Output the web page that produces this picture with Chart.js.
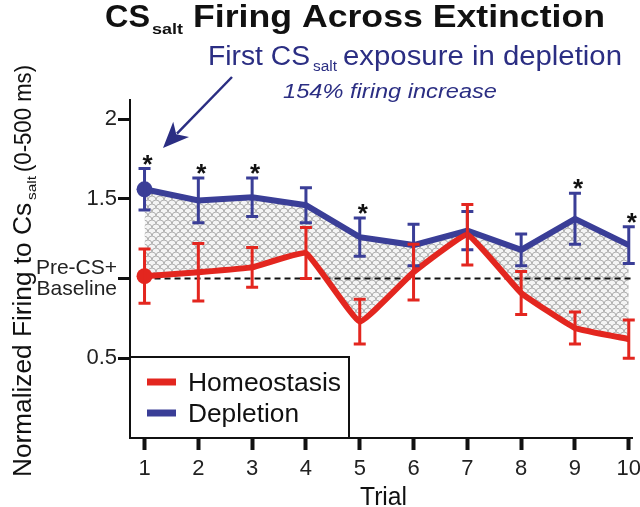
<!DOCTYPE html>
<html>
<head>
<meta charset="utf-8">
<script src="https://cdn.jsdelivr.net/npm/chart.js@4.4.1/dist/chart.umd.min.js"></script>
<style>
  html, body { margin: 0; padding: 0; background: #fff; }
  #wrap { width: 640px; height: 507px; }
</style>
</head>
<body>
<div id="wrap"><canvas id="myChart" width="640" height="507"></canvas></div>
<script>
// data
var trials = [1, 2, 3, 4, 5, 6, 7, 8, 9, 10];
var homeostasis = [1.015, 1.04, 1.07, 1.16, 0.73, 1.04, 1.275, 0.91, 0.69, 0.62];
var homeostasisErr = [0.17, 0.18, 0.125, 0.16, 0.14, 0.175, 0.19, 0.135, 0.10, 0.12];
var depletion = [1.56, 1.49, 1.51, 1.46, 1.26, 1.21, 1.30, 1.18, 1.375, 1.21];
var depletionErr = [0.13, 0.14, 0.12, 0.11, 0.12, 0.13, 0.12, 0.10, 0.16, 0.115];
var yTicks = [0.5, 1, 1.5, 2];
var sigTrials = [1, 2, 3, 5, 9, 10];

var FONT = '"Liberation Sans", Arial, Helvetica, sans-serif';
var red = '#e3261f';
var blue = '#3a3e97';
var navy = '#2b2e83';

function makePattern() {
  var c = document.createElement('canvas');
  c.width = 8; c.height = 8;
  var g = c.getContext('2d');
  g.fillStyle = '#f4f4f4';
  g.fillRect(0, 0, 8, 8);
  g.strokeStyle = '#929292';
  g.lineWidth = 0.7;
  g.beginPath(); g.arc(4, 4, 4, Math.PI, 2 * Math.PI); g.stroke();
  g.beginPath(); g.arc(0, 8, 4, Math.PI, 2 * Math.PI); g.stroke();
  g.beginPath(); g.arc(8, 8, 4, Math.PI, 2 * Math.PI); g.stroke();
  return document.getElementById('myChart').getContext('2d').createPattern(c, 'repeat');
}

function toPoints(vals) {
  return vals.map(function(v, i) { return { x: trials[i], y: v }; });
}

// draw text stretched to the span x0..x1
function fitText(ctx, text, x0, x1, y, font, color) {
  ctx.save();
  ctx.font = font;
  var w = ctx.measureText(text).width;
  ctx.translate(x0, y);
  ctx.scale((x1 - x0) / w, 1);
  ctx.fillStyle = color;
  ctx.textAlign = 'left';
  ctx.textBaseline = 'alphabetic';
  ctx.fillText(text, 0, 0);
  ctx.restore();
}

var decorations = {
  id: 'decorations',
  beforeDatasetsDraw: function(chart) {
    var ctx = chart.ctx, x = chart.scales.x, y = chart.scales.y;
    ctx.save();
    ctx.strokeStyle = '#111';
    ctx.lineWidth = 2;
    ctx.setLineDash([6, 4]);
    ctx.beginPath();
    ctx.moveTo(x.getPixelForValue(1), y.getPixelForValue(1));
    ctx.lineTo(x.getPixelForValue(10) + 4, y.getPixelForValue(1));
    ctx.stroke();
    ctx.restore();
  },
  afterDatasetsDraw: function(chart) {
    var ctx = chart.ctx, x = chart.scales.x, y = chart.scales.y;
    function bars(vals, errs, color) {
      ctx.save();
      ctx.strokeStyle = color;
      ctx.lineWidth = 3;
      for (var i = 0; i < vals.length; i++) {
        var px = x.getPixelForValue(trials[i]);
        var t = y.getPixelForValue(vals[i] + errs[i]);
        var b = y.getPixelForValue(vals[i] - errs[i]);
        ctx.beginPath();
        ctx.moveTo(px, t); ctx.lineTo(px, b);
        ctx.moveTo(px - 6, t); ctx.lineTo(px + 6, t);
        ctx.moveTo(px - 6, b); ctx.lineTo(px + 6, b);
        ctx.stroke();
      }
      ctx.restore();
    }
    bars(depletion, depletionErr, blue);
    bars(homeostasis, homeostasisErr, red);

    // significance stars
    ctx.save();
    ctx.fillStyle = '#111';
    ctx.font = 'bold 26px ' + FONT;
    ctx.textAlign = 'center';
    sigTrials.forEach(function(t) {
      var i = trials.indexOf(t);
      var top = Math.min(y.getPixelForValue(depletion[i] + depletionErr[i]),
                         y.getPixelForValue(homeostasis[i] + homeostasisErr[i]));
      ctx.fillText('*', x.getPixelForValue(t) + 3, top + 4);
    });
    ctx.restore();
  },
  afterDraw: function(chart) {
    var ctx = chart.ctx, area = chart.chartArea;

    // legend box
    ctx.save();
    ctx.fillStyle = '#fff';
    ctx.fillRect(area.left, 357, 219, area.bottom - 357);
    ctx.strokeStyle = '#111';
    ctx.lineWidth = 2;
    ctx.strokeRect(area.left, 357, 219, area.bottom - 357);
    ctx.lineWidth = 7;
    ctx.strokeStyle = red;
    ctx.beginPath(); ctx.moveTo(147, 382); ctx.lineTo(176, 382); ctx.stroke();
    ctx.strokeStyle = blue;
    ctx.beginPath(); ctx.moveTo(147, 413); ctx.lineTo(176, 413); ctx.stroke();
    ctx.restore();
    fitText(ctx, 'Homeostasis', 188, 341, 391, '26px ' + FONT, '#111');
    fitText(ctx, 'Depletion', 188, 299, 422, '26px ' + FONT, '#111');

    // title
    fitText(ctx, 'CS', 105, 150, 27, 'bold 32px ' + FONT, '#111');
    fitText(ctx, 'salt', 152, 183, 34, 'bold 15px ' + FONT, '#111');
    fitText(ctx, 'Firing Across Extinction', 193, 605, 27, 'bold 32px ' + FONT, '#111');

    // annotation
    fitText(ctx, 'First CS', 208, 310, 65, '27px ' + FONT, navy);
    fitText(ctx, 'salt', 313, 337, 71, '14px ' + FONT, navy);
    fitText(ctx, 'exposure in depletion', 343, 622, 65, '27px ' + FONT, navy);
    fitText(ctx, '154% firing increase', 283, 497, 98, 'italic 20px ' + FONT, navy);

    // arrow
    ctx.save();
    ctx.strokeStyle = navy;
    ctx.fillStyle = navy;
    ctx.lineWidth = 2.5;
    var x1 = 232, y1 = 77, x2 = 163, y2 = 148;
    var ang = Math.atan2(y2 - y1, x2 - x1);
    var hl = 26, hw = 11;
    var bx = x2 - hl * Math.cos(ang), by = y2 - hl * Math.sin(ang);
    ctx.beginPath(); ctx.moveTo(x1, y1); ctx.lineTo(bx + 6 * Math.cos(ang), by + 6 * Math.sin(ang)); ctx.stroke();
    ctx.beginPath();
    ctx.moveTo(x2, y2);
    ctx.lineTo(bx + hw * Math.sin(ang), by - hw * Math.cos(ang));
    ctx.lineTo(bx + 7 * Math.cos(ang), by + 7 * Math.sin(ang));
    ctx.lineTo(bx - hw * Math.sin(ang), by + hw * Math.cos(ang));
    ctx.closePath();
    ctx.fill();
    ctx.restore();

    // y axis title (rotated)
    ctx.save();
    ctx.translate(31, 0);
    ctx.rotate(-Math.PI / 2);
    fitText(ctx, 'Normalized Firing to Cs', -477, -203, 0, '26px ' + FONT, '#111');
    fitText(ctx, 'salt', -200, -176, 5, '13px ' + FONT, '#111');
    fitText(ctx, '(0-500 ms)', -172, -65, 0, '24px ' + FONT, '#111');
    ctx.restore();

    // x axis title
    fitText(ctx, 'Trial', 360, 407, 505, '25px ' + FONT, '#111');
  }
};

var myChart = new Chart(document.getElementById('myChart').getContext('2d'), {
  type: 'line',
  data: {
    datasets: [{
      label: 'Homeostasis',
      data: toPoints(homeostasis),
      borderColor: red,
      backgroundColor: red,
      borderWidth: 6,
      tension: 0.1,
      pointRadius: function(c) { return c.dataIndex === 0 ? 8 : 0; },
      pointBackgroundColor: red,
      pointBorderWidth: 0,
      fill: false,
      clip: false
    }, {
      label: 'Depletion',
      data: toPoints(depletion),
      borderColor: blue,
      backgroundColor: makePattern(),
      borderWidth: 6,
      tension: 0,
      pointRadius: function(c) { return c.dataIndex === 0 ? 8 : 0; },
      pointBackgroundColor: blue,
      pointBorderWidth: 0,
      fill: '-1',
      clip: false
    }]
  },
  options: {
    responsive: false,
    animation: false,
    layout: { padding: { top: 100, right: 8, left: 0, bottom: 0 } },
    plugins: {
      legend: { display: false },
      tooltip: { enabled: false },
      filler: { drawTime: 'beforeDatasetsDraw' }
    },
    scales: {
      x: {
        type: 'linear',
        min: 0.73,
        max: 10.06,
        afterBuildTicks: function(s) { s.ticks = trials.map(function(v) { return { value: v }; }); },
        afterFit: function(s) { s.height = 69; s.paddingLeft = 0; s.paddingRight = 0; },
        ticks: { autoSkip: false, maxRotation: 0, padding: 6, color: '#222', font: { family: FONT, size: 22 } },
        grid: { drawOnChartArea: false, tickLength: 12, tickWidth: 4, tickColor: '#111' },
        border: { color: '#111', width: 2 }
      },
      y: {
        min: 0,
        max: 2.12,
        afterBuildTicks: function(s) { s.ticks = yTicks.map(function(v) { return { value: v }; }); },
        afterFit: function(s) { s.width = 130; s.paddingTop = 0; s.paddingBottom = 0; },
        ticks: {
          padding: 1,
          color: '#222',
          font: function(c) {
            return { family: FONT, size: c.tick && c.tick.value === 1 ? 21 : 22, lineHeight: 1.0 };
          },
          callback: function(v) { return v === 1 ? ['Pre-CS+', 'Baseline'] : String(v); }
        },
        grid: { drawOnChartArea: false, tickLength: 12, tickWidth: 3, tickColor: '#111' },
        border: { color: '#111', width: 2 }
      }
    }
  },
  plugins: [decorations]
});
</script>
</body>
</html>
